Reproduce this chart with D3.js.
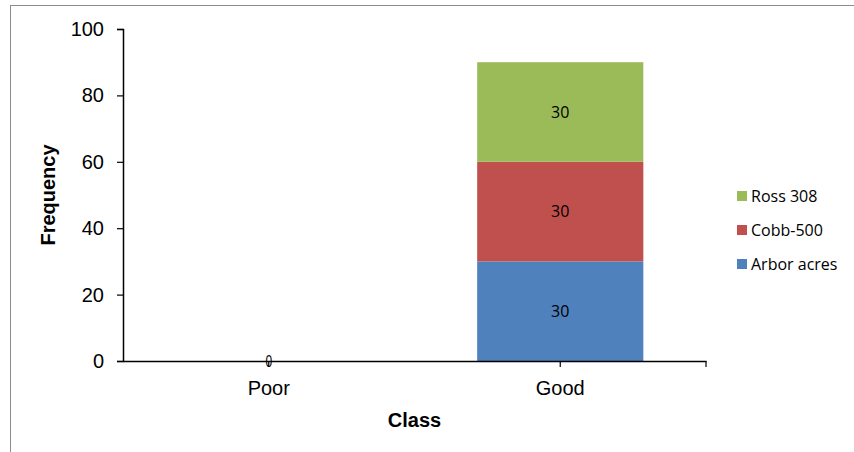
<!DOCTYPE html>
<html>
<head>
<meta charset="utf-8">
<script src="https://cdn.jsdelivr.net/npm/d3@7"></script>
<style>
  html, body { margin: 0; padding: 0; background: #fff; }
  svg { display: block; }
</style>
</head>
<body>
<svg id="chart" width="854" height="452"></svg>
<script>
// Categories and stacked series (bottom to top)
const categories = ["Poor", "Good"];
const seriesNames = ["Arbor acres", "Cobb-500", "Ross 308"];
const arborAcres = [0, 30];
const cobb500 = [0, 30];
const ross308 = [0, 30];
const yTicks = [0, 20, 40, 60, 80, 100];
const seriesColors = ["#4F81BD", "#C0504D", "#9BBB59"];

const svg = d3.select("#chart");
const W = 854, H = 452;
const margin = { left: 123, right: 148, top: 29, bottom: 91 };

// outer chart frame
svg.append("rect")
  .attr("x", 10.5).attr("y", 5.5)
  .attr("width", 860).attr("height", 460)
  .attr("fill", "#fff").attr("stroke", "#8c8c8c").attr("stroke-width", 1);

const x = d3.scaleBand().domain(categories)
  .range([margin.left, W - margin.right]).paddingInner(0.43).paddingOuter(0.215);
const y = d3.scaleLinear().domain([0, 100]).range([H - margin.bottom, margin.top]);

const rows = categories.map((c, i) => ({
  cat: c, "Arbor acres": arborAcres[i], "Cobb-500": cobb500[i], "Ross 308": ross308[i]
}));
const stacked = d3.stack().keys(seriesNames)(rows);

const g = svg.append("g");
stacked.forEach((layer, li) => {
  g.selectAll(null).data(layer).enter().append("rect")
    .attr("x", d => x(d.data.cat))
    .attr("width", x.bandwidth())
    .attr("y", d => y(d[1]))
    .attr("height", d => y(d[0]) - y(d[1]))
    .attr("fill", seriesColors[li]);
});

// value labels, one per non-empty segment
stacked.forEach(layer => {
  g.selectAll(null).data(layer.filter(d => d[1] - d[0] > 0)).enter().append("text")
    .attr("x", d => x(d.data.cat) + x.bandwidth() / 2)
    .attr("y", d => y((d[0] + d[1]) / 2))
    .attr("dy", "0.35em")
    .attr("text-anchor", "middle")
    .attr("font-family", "'Open Sans', sans-serif")
    .attr("font-size", 16)
    .attr("fill", "#000")
    .text(d => d[1] - d[0]);
});

// y axis
const yAxis = d3.axisLeft(y).tickValues(yTicks).tickSize(6).tickPadding(13);
const ya = svg.append("g").attr("transform", `translate(${margin.left},0)`).call(yAxis);
ya.select(".domain").attr("stroke", "#000").attr("stroke-width", 1.5);
ya.selectAll(".tick line").attr("stroke", "#000").attr("stroke-width", 1.2);
ya.selectAll(".tick text")
  .attr("font-family", "'Liberation Sans', Arial, sans-serif")
  .attr("font-size", 20).attr("fill", "#000");

// x axis
const xa = svg.append("g").attr("transform", `translate(0,${y(0)})`)
  .call(d3.axisBottom(x).tickSize(6).tickSizeOuter(0).tickPadding(14));
xa.select(".domain").attr("stroke", "#000").attr("stroke-width", 1.5);
xa.selectAll(".tick line").attr("stroke", "#000").attr("stroke-width", 1.2);
xa.selectAll(".tick text")
  .attr("font-family", "'Liberation Sans', Arial, sans-serif")
  .attr("font-size", 20).attr("fill", "#000");
xa.append("line")
  .attr("x1", W - margin.right).attr("x2", W - margin.right)
  .attr("y1", 0).attr("y2", 6)
  .attr("stroke", "#000").attr("stroke-width", 1.2);

// zero-total label for the empty category
rows.forEach(r => {
  const total = seriesNames.reduce((s, k) => s + r[k], 0);
  if (total === 0) {
    const cx = x(r.cat) + x.bandwidth() / 2;
    svg.append("text")
      .attr("transform", `translate(${cx},${y(0)}) scale(0.75,1)`)
      .attr("dy", "0.35em")
      .attr("text-anchor", "middle")
      .attr("font-family", "'Liberation Sans', Arial, sans-serif")
      .attr("font-size", 16)
      .text(total);
  }
});

// axis titles
svg.append("text")
  .attr("transform", `translate(55,${(y(0) + y(100)) / 2}) rotate(-90)`)
  .attr("text-anchor", "middle")
  .attr("font-family", "'Liberation Sans', Arial, sans-serif")
  .attr("font-weight", "bold").attr("font-size", 20)
  .text("Frequency");
svg.append("text")
  .attr("x", (margin.left + W - margin.right) / 2).attr("y", 427)
  .attr("text-anchor", "middle")
  .attr("font-family", "'Liberation Sans', Arial, sans-serif")
  .attr("font-weight", "bold").attr("font-size", 20)
  .text("Class");

// legend (top entry is the top of the stack)
const legendItems = seriesNames.map((n, i) => ({ name: n, color: seriesColors[i] })).reverse();
const lg = svg.append("g").attr("transform", "translate(737,196)");
legendItems.forEach((d, i) => {
  const row = lg.append("g").attr("transform", `translate(0,${i * 34})`);
  row.append("rect").attr("x", 0).attr("y", -5).attr("width", 10).attr("height", 10).attr("fill", d.color);
  row.append("text").attr("x", 14).attr("y", 0).attr("dy", "0.35em")
    .attr("font-family", "'Open Sans', sans-serif").attr("font-size", 16)
    .text(d.name);
});
</script>
</body>
</html>
